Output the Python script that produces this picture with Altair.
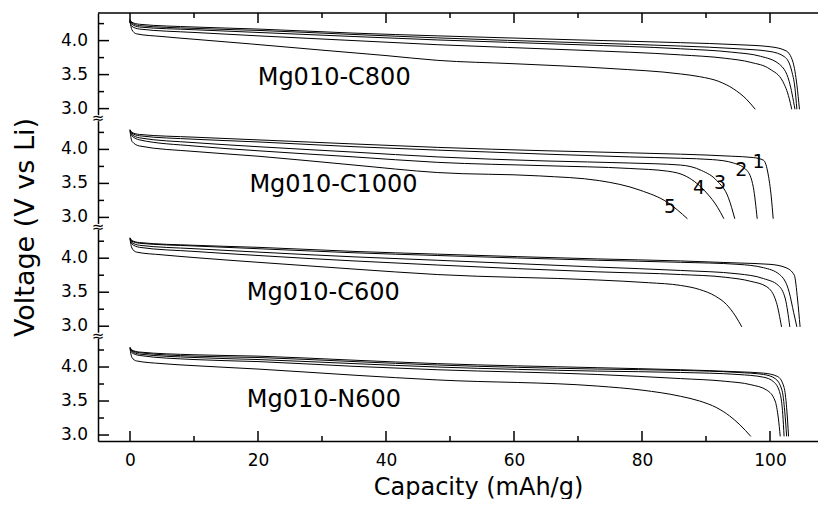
import altair as alt
import pandas as pd

FONT = "DejaVu Sans"

panel_names = ["Mg010-C800", "Mg010-C1000", "Mg010-C600", "Mg010-N600"]
panel_offsets = [4.8, 3.2, 1.6, 0.0]

# ---------------- Mg010-C800 ----------------
c800_cap1 = [0, 0.3, 1.5, 10, 20, 35, 48, 70, 86, 95, 100, 102.5, 103.6, 104.2, 104.6]
c800_v1 = [4.31, 4.27, 4.24, 4.20, 4.17, 4.11, 4.07, 4.01, 3.97, 3.94, 3.91, 3.85, 3.68, 3.35, 2.99]
c800_cap2 = [0, 0.3, 1.5, 10, 20, 35, 48, 70, 86, 95, 100, 102.3, 103.4, 103.9, 104.2]
c800_v2 = [4.30, 4.26, 4.22, 4.18, 4.15, 4.09, 4.04, 3.97, 3.92, 3.88, 3.84, 3.76, 3.55, 3.30, 2.99]
c800_cap3 = [0, 0.3, 1.5, 10, 20, 35, 48, 70, 86, 94, 98.5, 101.5, 103, 103.9]
c800_v3 = [4.30, 4.24, 4.20, 4.16, 4.12, 4.06, 4.01, 3.94, 3.88, 3.83, 3.77, 3.65, 3.40, 2.99]
c800_cap4 = [0, 0.3, 1.5, 10, 20, 35, 48, 70, 86, 93, 97, 100, 102, 103, 103.4]
c800_v4 = [4.29, 4.21, 4.17, 4.12, 4.07, 4.00, 3.94, 3.86, 3.79, 3.74, 3.68, 3.58, 3.40, 3.15, 2.99]
c800_cap5 = [0, 0.3, 1, 5, 10, 19, 30, 40, 48, 60, 75, 86, 89, 92, 94.3, 96.3, 97.7]
c800_v5 = [4.28, 4.16, 4.10, 4.06, 4.02, 3.95, 3.86, 3.78, 3.71, 3.66, 3.59, 3.51, 3.47, 3.40, 3.29, 3.14, 2.99]

# ---------------- Mg010-C1000 ----------------
c1000_cap1 = [0, 0.3, 1.5, 10, 20, 35, 48, 65, 78, 86, 94, 97.4, 99.0, 99.7, 100.2, 100.5]
c1000_v1 = [4.29, 4.25, 4.22, 4.18, 4.14, 4.08, 4.03, 3.98, 3.95, 3.93, 3.90, 3.88, 3.84, 3.64, 3.30, 2.98]
c1000_cap2 = [0, 0.3, 1.5, 10, 20, 35, 48, 65, 78, 86, 91, 94.3, 96.4, 97.4, 98.0]
c1000_v2 = [4.29, 4.24, 4.20, 4.15, 4.11, 4.04, 3.99, 3.93, 3.89, 3.87, 3.85, 3.80, 3.69, 3.44, 2.98]
c1000_cap3 = [0, 0.3, 1.5, 10, 20, 35, 48, 65, 78, 86, 89.3, 91.7, 93.5, 94.5]
c1000_v3 = [4.28, 4.22, 4.17, 4.10, 4.04, 3.96, 3.89, 3.83, 3.80, 3.77, 3.69, 3.54, 3.29, 2.98]
c1000_cap4 = [0, 0.3, 1.5, 10, 20, 35, 48, 65, 78, 84, 87, 90.1, 91.8, 92.8]
c1000_v4 = [4.28, 4.20, 4.14, 4.05, 3.98, 3.89, 3.81, 3.76, 3.72, 3.68, 3.60, 3.36, 3.15, 2.98]
c1000_cap5 = [0, 0.3, 1.5, 10, 20, 35, 48, 64, 73.4, 79.7, 84, 87.1]
c1000_v5 = [4.27, 4.12, 4.05, 3.97, 3.90, 3.77, 3.66, 3.61, 3.54, 3.40, 3.22, 2.98]

# ---------------- Mg010-C600 ----------------
c600_cap1 = [0, 0.3, 1.5, 10, 20, 35, 48, 73, 86, 95, 100, 102.5, 103.8, 104.3, 104.7]
c600_v1 = [4.30, 4.26, 4.23, 4.19, 4.16, 4.10, 4.06, 3.99, 3.96, 3.93, 3.91, 3.86, 3.75, 3.40, 2.99]
c600_cap2 = [0, 0.3, 1.5, 10, 20, 35, 48, 73, 86, 95, 99, 101.5, 103, 103.7, 104.2]
c600_v2 = [4.30, 4.25, 4.22, 4.18, 4.14, 4.08, 4.04, 3.97, 3.94, 3.91, 3.86, 3.76, 3.50, 3.20, 2.99]
c600_cap3 = [0, 0.3, 1.5, 10, 20, 35, 48, 73, 86, 95, 99, 101.3, 102.4, 103.1]
c600_v3 = [4.29, 4.23, 4.19, 4.14, 4.09, 4.02, 3.97, 3.87, 3.82, 3.77, 3.70, 3.60, 3.40, 2.99]
c600_cap4 = [0, 0.3, 1.5, 10, 20, 35, 48, 73, 86, 93, 97, 99.5, 101, 101.8]
c600_v4 = [4.29, 4.21, 4.16, 4.10, 4.04, 3.96, 3.90, 3.80, 3.76, 3.72, 3.66, 3.58, 3.35, 2.99]
c600_cap5 = [0, 0.3, 1, 5, 10, 20, 35, 48, 73, 81, 86, 89, 91.5, 93.2, 94.6, 95.6]
c600_v5 = [4.28, 4.15, 4.09, 4.05, 4.01, 3.94, 3.84, 3.76, 3.68, 3.64, 3.60, 3.54, 3.44, 3.32, 3.15, 2.99]

# ---------------- Mg010-N600 ----------------
n600_cap1 = [0, 0.3, 1.5, 10, 20, 35, 48, 73, 86, 95, 99, 101.2, 102.2, 102.6, 102.9]
n600_v1 = [4.29, 4.25, 4.22, 4.18, 4.16, 4.10, 4.05, 3.99, 3.96, 3.93, 3.91, 3.86, 3.70, 3.40, 2.98]
n600_cap2 = [0, 0.3, 1.5, 10, 20, 35, 48, 73, 86, 95, 99, 100.8, 101.9, 102.3, 102.6]
n600_v2 = [4.29, 4.24, 4.21, 4.16, 4.14, 4.08, 4.03, 3.97, 3.95, 3.92, 3.89, 3.83, 3.65, 3.35, 2.98]
n600_cap3 = [0, 0.3, 1.5, 10, 20, 35, 48, 73, 86, 95, 99, 100.6, 101.6, 102.0, 102.2]
n600_v3 = [4.28, 4.23, 4.19, 4.14, 4.11, 4.05, 4.00, 3.94, 3.92, 3.89, 3.85, 3.78, 3.60, 3.30, 2.98]
n600_cap4 = [0, 0.3, 1.5, 10, 20, 35, 48, 73, 86, 93, 97, 99.5, 100.8, 101.3, 101.6]
n600_v4 = [4.28, 4.21, 4.17, 4.11, 4.08, 4.01, 3.96, 3.89, 3.83, 3.79, 3.74, 3.66, 3.50, 3.25, 2.98]
n600_cap5 = [0, 0.3, 1, 5, 10, 20, 35, 48, 73, 80, 86, 89, 91.7, 93.7, 95.3, 97.0]
n600_v5 = [4.27, 4.14, 4.09, 4.05, 4.02, 3.97, 3.88, 3.81, 3.72, 3.66, 3.57, 3.50, 3.40, 3.28, 3.15, 2.98]

# panel name labels (capacity, voltage within its panel)
name_cap = [31.9, 31.8, 30.2, 30.3]
name_v = [3.45, 3.47, 3.49, 3.51]

# cycle number labels in the Mg010-C1000 panel
cycle_text = ["1", "2", "3", "4", "5"]
cycle_cap = [98.2, 95.5, 92.2, 88.9, 84.4]
cycle_v = [3.82, 3.69, 3.50, 3.43, 3.16]

# axis ticks
x_major = [0, 20, 40, 60, 80, 100]
x_minor = [10, 30, 50, 70, 90]
y_major_rel = [3.0, 3.5, 4.0]
y_minor_rel = [3.25, 3.75, 4.25]
break_rel = 4.46  # axis-break position above each lower panel

W, H = 720, 428
X_MIN, X_MAX = -5, 107.5
Y_MIN, Y_MAX = 2.912, 9.206
PX_X = W / (X_MAX - X_MIN)   # pixels per capacity unit
PX_Y = H / (Y_MAX - Y_MIN)   # pixels per volt

curves = {
    0: [(c800_cap1, c800_v1), (c800_cap2, c800_v2), (c800_cap3, c800_v3), (c800_cap4, c800_v4), (c800_cap5, c800_v5)],
    1: [(c1000_cap1, c1000_v1), (c1000_cap2, c1000_v2), (c1000_cap3, c1000_v3), (c1000_cap4, c1000_v4), (c1000_cap5, c1000_v5)],
    2: [(c600_cap1, c600_v1), (c600_cap2, c600_v2), (c600_cap3, c600_v3), (c600_cap4, c600_v4), (c600_cap5, c600_v5)],
    3: [(n600_cap1, n600_v1), (n600_cap2, n600_v2), (n600_cap3, n600_v3), (n600_cap4, n600_v4), (n600_cap5, n600_v5)],
}

rows = []
for p, lst in curves.items():
    for ci, (caps, vs) in enumerate(lst):
        for c, v in zip(caps, vs):
            rows.append({"curve": f"{panel_names[p]}-{ci+1}", "cap": c, "Y": v + panel_offsets[p]})
df_lines = pd.DataFrame(rows)

df_names = pd.DataFrame({
    "name": panel_names,
    "cap": name_cap,
    "Y": [v + o for v, o in zip(name_v, panel_offsets)],
})
df_cycles = pd.DataFrame({
    "t": cycle_text,
    "cap": cycle_cap,
    "Y": [v + panel_offsets[1] for v in cycle_v],
})
y_major = [round(v + o, 3) for o in panel_offsets for v in y_major_rel]
y_major_lab = [f"{v:.1f}" for o in panel_offsets for v in y_major_rel]
y_minor = [round(v + o, 3) for o in panel_offsets for v in y_minor_rel]

# tick segments (length expressed through the scales)
df_ymaj = pd.DataFrame({"Y": y_major, "lab": y_major_lab, "x1": X_MIN, "x2": X_MIN + 11 / PX_X})
df_ymin = pd.DataFrame({"Y": y_minor, "x1": X_MIN, "x2": X_MIN + 6 / PX_X})
df_xbot = pd.DataFrame({
    "cap": x_major + x_minor,
    "y1": Y_MIN,
    "y2": [Y_MIN + 10 / PX_Y] * len(x_major) + [Y_MIN + 5 / PX_Y] * len(x_minor),
})
df_xtop = pd.DataFrame({
    "cap": x_major + x_minor,
    "y1": Y_MAX,
    "y2": [Y_MAX - 10 / PX_Y] * len(x_major) + [Y_MAX - 5 / PX_Y] * len(x_minor),
})
df_breaks = pd.DataFrame({
    "Y": [break_rel + o for o in panel_offsets[1:]],
    "Ya": [break_rel + o - 3 / PX_Y for o in panel_offsets[1:]],
    "Yb": [break_rel + o + 3 / PX_Y for o in panel_offsets[1:]],
})
df_frame = pd.DataFrame({"x1": [X_MIN], "x2": [X_MAX], "y": [Y_MAX]})

xscale = alt.Scale(domain=[X_MIN, X_MAX], nice=False, zero=False)
yscale = alt.Scale(domain=[Y_MIN, Y_MAX], nice=False, zero=False)

x_enc = alt.X(
    "cap:Q", scale=xscale,
    axis=alt.Axis(
        values=x_major, format="d", ticks=False, tickSize=0, labelPadding=11,
        labelOverlap=False, labelFlush=False,
        labelFont=FONT, labelFontSize=17, labelColor="black",
        domainColor="black", domainWidth=1.5, grid=False, zindex=0,
        title="Capacity (mAh/g)", titleFont=FONT, titleFontSize=24,
        titleFontWeight="normal", titleColor="black",
        titleX=380, titleY=53, titleBaseline="alphabetic", titleAlign="center",
    ),
)
y_enc = alt.Y(
    "Y:Q", scale=yscale,
    axis=alt.Axis(
        values=y_major, ticks=False, tickSize=0, labels=False,
        domainColor="black", domainWidth=1.5, grid=False, zindex=0,
        title="Voltage (V vs Li)", titleFont=FONT, titleFontSize=27,
        titleFontWeight="normal", titleColor="black",
        titleX=-65, titleY=214, titleAngle=270, titleBaseline="alphabetic",
        titleAlign="center",
    ),
)

lines = alt.Chart(df_lines).mark_line(
    color="black", strokeWidth=1, interpolate="monotone"
).encode(x=x_enc, y=y_enc, detail="curve:N")

top_border = alt.Chart(df_frame).mark_rule(color="black", strokeWidth=1.5).encode(
    x="x1:Q", x2="x2:Q", y="y:Q"
)
bot_ticks = alt.Chart(df_xbot).mark_rule(color="black", strokeWidth=1.5).encode(
    x="cap:Q", y="y1:Q", y2="y2:Q"
)
top_ticks = alt.Chart(df_xtop).mark_rule(color="black", strokeWidth=1.5).encode(
    x="cap:Q", y="y1:Q", y2="y2:Q"
)
left_major = alt.Chart(df_ymaj).mark_rule(color="black", strokeWidth=1.5).encode(
    y="Y:Q", x="x1:Q", x2="x2:Q"
)
left_minor = alt.Chart(df_ymin).mark_rule(color="black", strokeWidth=1.5).encode(
    y="Y:Q", x="x1:Q", x2="x2:Q"
)
y_labels = alt.Chart(df_ymaj).mark_text(
    font=FONT, fontSize=17, color="black", align="right", baseline="middle", dx=-10
).encode(x="x1:Q", y="Y:Q", text="lab:N")

break_gap = alt.Chart(df_breaks).mark_rule(color="white", strokeWidth=4).encode(
    x=alt.datum(X_MIN), y="Ya:Q", y2="Yb:Q"
)
break_mark = alt.Chart(df_breaks).mark_text(
    text="≈", font=FONT, fontSize=15, color="black", baseline="middle", align="center"
).encode(x=alt.datum(X_MIN), y="Y:Q")

names = alt.Chart(df_names).mark_text(
    font=FONT, fontSize=24, color="black", baseline="middle", align="center"
).encode(x="cap:Q", y="Y:Q", text="name:N")

cycles = alt.Chart(df_cycles).mark_text(
    font=FONT, fontSize=19, color="black", baseline="middle", align="center"
).encode(x="cap:Q", y="Y:Q", text="t:N")

chart = alt.layer(
    lines, top_border, bot_ticks, top_ticks,
    left_major, left_minor, y_labels, break_gap, break_mark, names, cycles
).properties(
    width=W, height=H,
    autosize=alt.AutoSizeParams(type="none"),
    padding={"left": 90, "top": 5, "right": 0, "bottom": 58},
    background="white",
).configure_view(stroke=None)

chart.save("out.html", embed_options={"renderer": "svg", "actions": False})
